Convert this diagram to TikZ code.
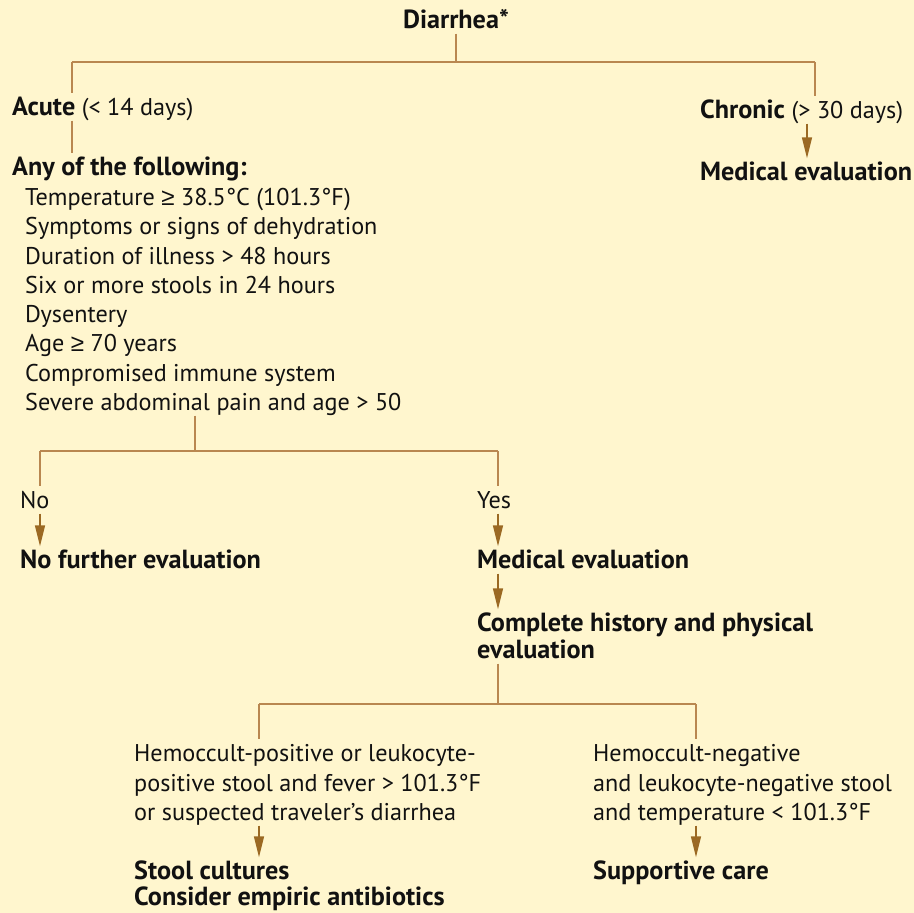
\documentclass[tikz,border=0pt]{standalone}
\usepackage{fontspec}
\setmainfont{PT Sans}
\newfontfamily\symf{Liberation Sans}
\newcommand{\geqsym}{{\symf ≥}}
\usetikzlibrary{arrows.meta}
\definecolor{bgc}{RGB}{255,246,206}
\definecolor{linec}{RGB}{185,135,80}
\definecolor{arrc}{RGB}{155,105,35}
\definecolor{ink}{RGB}{17,17,17}
\newcommand{\regf}{\fontsize{24.3}{29}\selectfont}
\newcommand{\boldf}{\fontsize{26.3}{29}\selectfont\bfseries}
\tikzset{
  txt/.style={anchor=west, inner xsep=0pt, inner ysep=5bp, text height=17bp, text depth=0pt,
              font=\regf, text=ink},
  btxt/.style={txt, font=\boldf},
  ln/.style={draw=linec, line width=1.6bp},
  arr/.style={draw=arrc, line width=1.4bp, -{Triangle[length=21bp,width=10bp]}},
}
\begin{document}
\begin{tikzpicture}[x=1bp,y=-1bp]
\fill[bgc] (0,0) rectangle (914,913);
\useasboundingbox (0,0) rectangle (914,913);

% top
\node[btxt, anchor=center] (diar) at (456,20) {Diarrhea*};
\node[txt] (acute) at (12,107) {{\boldf Acute} (< 14 days)};
\node[txt] (chronic) at (700,110) {{\boldf Chronic} (> 30 days)};
\node[btxt] (medC) at (700,172) {Medical evaluation};

\node[btxt] (any) at (12,167) {Any of the following:};
\node[txt] (i1) at (25,197) {Temperature \geqsym{} 38.5°C (101.3°F)};
\node[txt] (i2) at (25,226) {Symptoms or signs of dehydration};
\node[txt] (i3) at (25,256) {Duration of illness > 48 hours};
\node[txt] (i4) at (25,285) {Six or more stools in 24 hours};
\node[txt] (i5) at (25,314) {Dysentery};
\node[txt] (i6) at (25,343) {Age \geqsym{} 70 years};
\node[txt] (i7) at (25,373) {Compromised immune system};
\node[txt] (i8) at (25,402) {Severe abdominal pain and age > 50};

\node[txt] (no) at (20,500) {No};
\node[txt] (yes) at (477,500) {Yes};
\node[btxt] (nofur) at (20,560) {No further evaluation};
\node[btxt] (medY) at (477,560) {Medical evaluation};
\node[btxt] (comp1) at (477,623) {Complete history and physical};
\node[btxt] (comp2) at (477,650) {evaluation};

\node[txt] (hp1) at (134,753) {Hemoccult-positive or leukocyte-};
\node[txt] (hp2) at (134,783) {positive stool and fever > 101.3°F};
\node[txt] (hp3) at (134,812) {or suspected traveler’s diarrhea};
\node[btxt] (st1) at (134,871) {Stool cultures};
\node[btxt] (st2) at (134,897) {Consider empiric antibiotics};

\node[txt] (hn1) at (593,753) {Hemoccult-negative};
\node[txt] (hn2) at (593,783) {and leukocyte-negative stool};
\node[txt] (hn3) at (593,812) {and temperature < 101.3°F};
\node[btxt] (sup) at (593,871) {Supportive care};

% junction coordinates
\coordinate (j0) at (456,62);
\coordinate (jA) at (72,62);
\coordinate (jC) at (815,62);
\coordinate (xC) at (807,0);
\coordinate (k0) at (195,451);
\coordinate (kN) at (40,451);
\coordinate (kY) at (498,451);
\coordinate (m0) at (498,704);
\coordinate (mL) at (259,704);
\coordinate (mR) at (696,704);

% connectors
\draw[ln] (diar.south) -- (j0);
\draw[ln] (jA) -- (jC);
\draw[ln] (jA) -- (acute.north -| jA);
\draw[ln] (jC) -- (chronic.north -| jC);
\draw[ln] (acute.south -| jA) -- (any.north -| jA);
\draw[arr] (chronic.south -| xC) -- (medC.north -| xC);

\draw[ln] (i8.south -| k0) -- (k0);
\draw[ln] (kN) -- (kY);
\draw[ln] (kN) -- (no.north -| kN);
\draw[ln] (kY) -- (yes.north -| kY);
\draw[arr] (no.south -| kN) -- (nofur.north -| kN);
\draw[arr] (yes.south -| kY) -- (medY.north -| kY);
\draw[arr] (medY.south -| kY) -- (comp1.north -| kY);

\draw[ln] (comp2.south -| m0) -- (m0);
\draw[ln] (mL) -- (mR);
\draw[ln] (mL) -- (hp1.north -| mL);
\draw[ln] (mR) -- (hn1.north -| mR);
\draw[arr] (hp3.south -| mL) -- (st1.north -| mL);
\draw[arr] (hn3.south -| mR) -- (sup.north -| mR);
\end{tikzpicture}
\end{document}
